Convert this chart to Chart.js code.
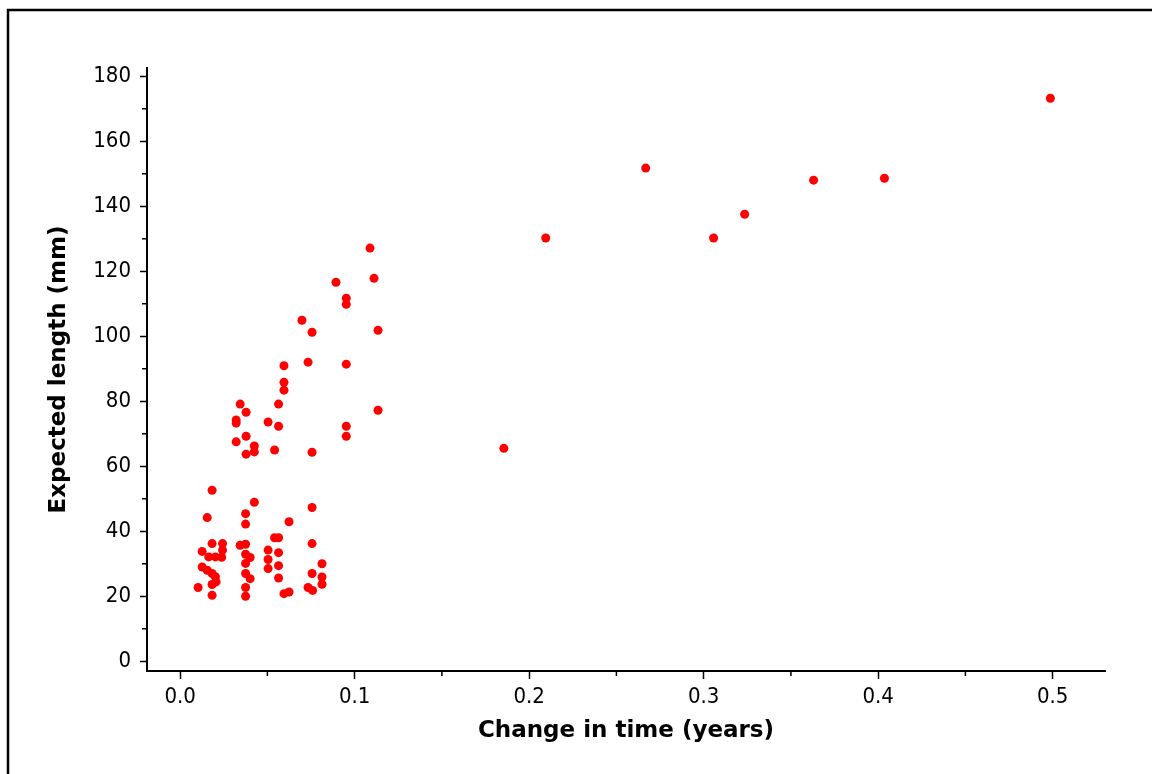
<!DOCTYPE html>
<html>
<head>
<meta charset="utf-8">
<script src="https://cdn.jsdelivr.net/npm/chart.js@4.4.0/dist/chart.umd.min.js"></script>
<style>
  html,body{margin:0;padding:0;background:#fff;}
  #wrap{width:1152px;height:774px;}
</style>
</head>
<body>
<div id="wrap"><canvas id="myChart" width="1152" height="774"></canvas></div>
<script>
// change in time (years) and expected length (mm)
const timeYears=[
  0.0103,0.0126,0.0126,0.0155,0.0155,0.0164,0.0183,0.0183,0.0183,0.0183,
  0.0183,0.0202,0.0202,0.0206,0.0238,0.0243,0.0243,0.0344,0.0375,0.0375,
  0.0401,0.0375,0.0375,0.0401,0.0375,0.0375,0.0375,0.0375,0.0425,0.0504,
  0.0504,0.0504,0.0541,0.0564,0.0564,0.0564,0.0564,0.0595,0.0624,0.0624,
  0.0756,0.0756,0.0813,0.0756,0.0813,0.0813,0.0733,0.0759,0.0344,0.0378,
  0.0321,0.0321,0.0504,0.0564,0.0564,0.0378,0.0321,0.0425,0.0425,0.0378,
  0.0541,0.0756,0.0595,0.0595,0.0595,0.0733,0.0952,0.0952,0.0952,0.1134,
  0.1088,0.0893,0.1111,0.0952,0.0952,0.0698,0.0756,0.1134,0.1855,0.2095,
  0.2668,0.3057,0.3235,0.3630,0.4036,0.4987
];
const lengthMm=[
  22.7,33.8,29.0,44.2,28.0,32.1,52.6,36.2,27.0,23.6,
  20.3,32.1,26.0,24.4,32.0,36.2,34.2,35.7,36.0,32.9,
  31.9,30.1,27.0,25.4,22.7,20.0,45.4,42.2,48.9,34.2,
  31.3,28.5,38.0,38.0,33.4,29.4,25.6,20.8,21.3,42.9,
  47.3,36.2,30.0,27.0,25.9,23.7,22.7,21.8,79.1,76.6,
  74.2,73.3,73.6,72.3,79.1,69.2,67.5,66.2,64.4,63.7,
  65.0,64.3,90.9,85.8,83.4,92.0,91.4,72.3,69.2,77.2,
  127.1,116.6,117.8,111.7,109.8,104.9,101.2,101.8,65.5,130.2,
  151.7,130.2,137.5,148.0,148.6,173.2
];
const xTicks=[0,0.1,0.2,0.3,0.4,0.5];
const yTicks=[0,20,40,60,80,100,120,140,160,180];
const xMinor=[0.05,0.15,0.25,0.35,0.45];
const yMinor=[10,30,50,70,90,110,130,150,170];

const fontFam='"DejaVu Sans Condensed","DejaVu Sans",sans-serif';
const titleFam='"DejaVu Sans",sans-serif';

let points=timeYears.map((t,i)=>({x:t,y:lengthMm[i]}));

// frame round the picture and the short minor ticks
const extras={
  id:"extras",
  beforeDraw(chart){
    const c=chart.ctx;
    c.save();
    c.fillStyle="#fff";
    c.fillRect(0,0,chart.width,chart.height);
    c.strokeStyle="#000";
    c.lineWidth=2.5;
    c.beginPath();
    c.moveTo(8,chart.height);
    c.lineTo(8,10);
    c.lineTo(chart.width,10);
    c.stroke();
    c.restore();
  },
  afterDraw(chart){
    const c=chart.ctx;
    const xs=chart.scales.x, ys=chart.scales.y;
    c.save();
    c.strokeStyle="#000";
    c.lineWidth=1.5;
    c.beginPath();
    xMinor.forEach(v=>{
      let px=xs.getPixelForValue(v);
      c.moveTo(px,xs.top);
      c.lineTo(px,xs.top+5);
    });
    yMinor.forEach(v=>{
      let py=ys.getPixelForValue(v);
      c.moveTo(ys.right,py);
      c.lineTo(ys.right-5,py);
    });
    c.stroke();
    c.restore();
  }
};

const ctx=document.getElementById("myChart");
const myChart=new Chart(ctx,{
  type:"scatter",
  data:{
    datasets:[{
      data:points,
      backgroundColor:"#ff0000",
      borderWidth:0,
      pointRadius:4.5,
      pointHoverRadius:4.5
    }]
  },
  options:{
    responsive:false,
    animation:false,
    devicePixelRatio:1,
    layout:{padding:{left:0,right:47,top:68,bottom:0}},
    plugins:{legend:{display:false},tooltip:{enabled:false}},
    scales:{
      x:{
        type:"linear",
        min:-0.019,
        max:0.530,
        afterBuildTicks:(s)=>{s.ticks=xTicks.map(v=>({value:v}));},
        afterFit:(s)=>{s.height=103;},
        ticks:{
          color:"#000",
          font:{family:fontFam,size:22},
          padding:5,
          maxRotation:0,
          callback:(v)=>Number(v).toFixed(1)
        },
        grid:{display:true,drawOnChartArea:false,tickLength:8,tickWidth:1.5,tickColor:"#000"},
        border:{display:true,color:"#000",width:2},
        title:{
          display:true,
          text:"Change in time (years)",
          color:"#000",
          font:{family:titleFam,size:23,weight:"bold"},
          padding:{top:0,bottom:29}
        }
      },
      y:{
        type:"linear",
        min:-3,
        max:182.5,
        afterBuildTicks:(s)=>{s.ticks=yTicks.map(v=>({value:v}));},
        afterFit:(s)=>{s.width=147;},
        ticks:{
          color:"#000",
          font:{family:fontFam,size:22},
          padding:9,
          callback:(v)=>String(v)
        },
        grid:{display:true,drawOnChartArea:false,tickLength:7,tickWidth:1.5,tickColor:"#000"},
        border:{display:true,color:"#000",width:2},
        title:{
          display:true,
          text:"Expected length (mm)",
          color:"#000",
          font:{family:titleFam,size:23,weight:"bold"},
          padding:{top:45,bottom:0}
        }
      }
    }
  },
  plugins:[extras]
});
</script>
</body>
</html>
